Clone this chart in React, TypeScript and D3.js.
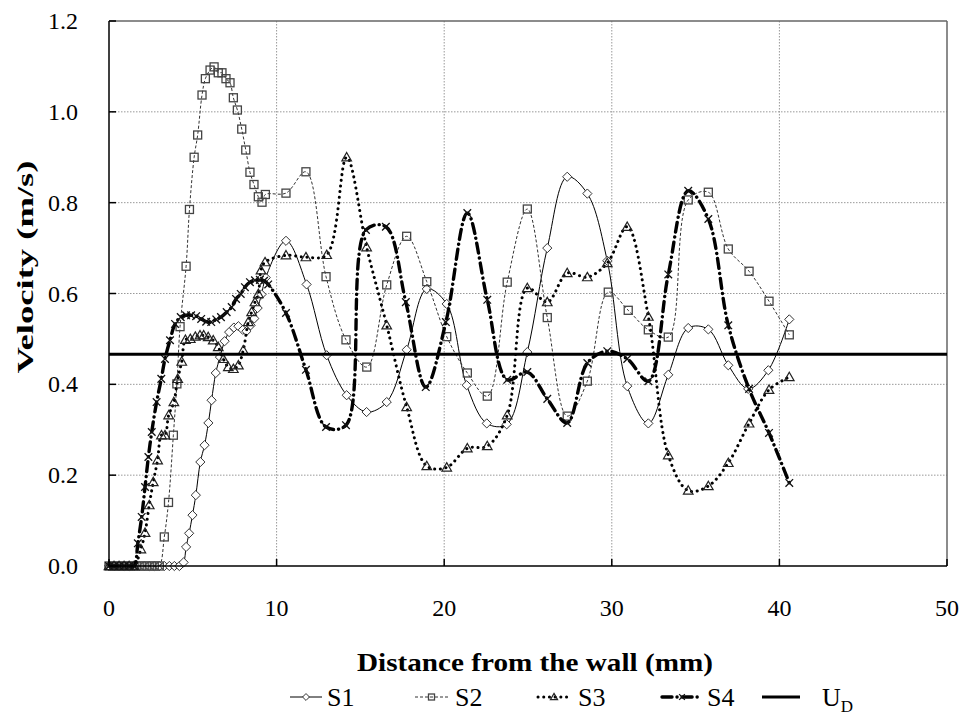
import React from 'react';
import * as d3 from 'd3';

type P = [number, number];

const xTickValues = [0, 10, 20, 30, 40, 50];
const yTickValues = [0, 0.2, 0.4, 0.6, 0.8, 1.0, 1.2];
const seriesNames = ['S1', 'S2', 'S3', 'S4'];
const udValue = 0.466;

const s1: P[] = [
  [0, 0], [0.3, 0], [0.6, 0], [0.9, 0], [1.2, 0], [1.5, 0], [1.8, 0], [2.1, 0], [2.4, 0], [2.7, 0],
  [3.0, 0], [3.3, 0], [3.6, 0], [3.9, 0], [4.2, 0],
  [4.45, 0.008], [4.6, 0.042], [4.78, 0.072], [4.98, 0.112], [5.18, 0.156], [5.45, 0.229], [5.7, 0.266],
  [5.93, 0.315], [6.12, 0.365], [6.37, 0.425], [6.62, 0.46], [6.9, 0.495], [7.17, 0.515], [7.45, 0.525],
  [7.72, 0.528], [7.98, 0.52], [8.2, 0.517], [8.45, 0.53], [8.67, 0.545], [8.87, 0.568], [9.1, 0.598],
  [9.35, 0.635],
  [10.56, 0.716], [11.79, 0.62], [12.99, 0.464], [14.18, 0.376], [15.37, 0.339], [16.57, 0.361],
  [17.76, 0.476], [18.96, 0.61], [20.15, 0.577], [21.34, 0.398], [22.54, 0.314], [23.73, 0.312],
  [24.96, 0.471], [26.15, 0.7], [27.34, 0.857], [28.54, 0.82], [29.73, 0.672], [30.92, 0.396],
  [32.18, 0.314], [33.37, 0.421], [34.56, 0.524], [35.76, 0.521], [36.95, 0.442], [38.14, 0.39],
  [39.34, 0.431], [40.59, 0.543],
];

const s2: P[] = [
  [0, 0], [0.3, 0], [0.6, 0], [0.9, 0], [1.2, 0], [1.5, 0], [1.8, 0], [2.1, 0], [2.4, 0], [2.7, 0], [3.0, 0],
  [3.3, 0.064], [3.55, 0.14], [3.84, 0.288], [4.05, 0.401], [4.24, 0.527], [4.6, 0.66], [4.8, 0.785],
  [5.08, 0.9], [5.29, 0.949], [5.55, 1.037], [5.75, 1.073], [6.03, 1.092], [6.27, 1.099], [6.52, 1.086],
  [6.74, 1.086], [6.98, 1.073], [7.22, 1.064], [7.42, 1.031], [7.66, 1.004], [7.92, 0.962], [8.16, 0.916],
  [8.41, 0.867], [8.65, 0.84], [8.91, 0.813], [9.13, 0.801], [9.33, 0.818],
  [10.56, 0.821], [11.75, 0.868], [12.95, 0.637], [14.14, 0.498], [15.38, 0.438], [16.57, 0.619],
  [17.76, 0.726], [18.96, 0.626], [20.15, 0.505], [21.38, 0.425], [22.57, 0.374], [23.76, 0.625],
  [24.96, 0.786], [26.15, 0.547], [27.34, 0.33], [28.54, 0.407], [29.79, 0.603], [30.98, 0.563],
  [32.18, 0.52], [33.37, 0.504], [34.56, 0.806], [35.76, 0.823], [36.95, 0.698], [38.19, 0.649],
  [39.38, 0.583], [40.59, 0.509],
];

const s3: P[] = [
  [0, 0], [0.3, 0], [0.6, 0], [0.9, 0], [1.2, 0], [1.5, 0],
  [1.9, 0.037], [2.15, 0.073], [2.4, 0.134], [2.64, 0.185], [2.9, 0.233], [3.13, 0.288], [3.34, 0.288],
  [3.56, 0.332], [3.87, 0.361], [4.1, 0.412], [4.34, 0.45], [4.56, 0.498], [4.85, 0.5], [5.15, 0.505],
  [5.43, 0.508], [5.65, 0.508], [5.92, 0.504], [6.22, 0.497], [6.52, 0.482], [6.82, 0.456], [7.12, 0.438],
  [7.42, 0.434], [7.72, 0.442], [8.01, 0.475], [8.31, 0.537], [8.51, 0.559], [8.71, 0.581], [8.91, 0.599],
  [9.07, 0.651], [9.31, 0.669],
  [10.56, 0.684], [11.75, 0.68], [12.99, 0.685], [14.18, 0.9], [15.37, 0.702], [16.57, 0.53],
  [17.76, 0.35], [18.96, 0.22], [20.15, 0.217], [21.38, 0.259], [22.57, 0.264], [23.76, 0.332],
  [24.96, 0.612], [26.15, 0.581], [27.34, 0.645], [28.54, 0.636], [29.73, 0.667], [30.92, 0.747],
  [32.18, 0.549], [33.37, 0.244], [34.56, 0.166], [35.76, 0.176], [36.95, 0.227], [38.19, 0.314],
  [39.38, 0.388], [40.59, 0.416],
];

const s4: P[] = [
  [0, 0], [0.3, 0], [0.6, 0], [0.9, 0], [1.2, 0], [1.5, 0],
  [1.72, 0.05], [1.95, 0.108], [2.15, 0.174], [2.35, 0.24], [2.55, 0.295], [2.84, 0.361], [3.12, 0.412],
  [3.34, 0.456], [3.64, 0.497], [3.94, 0.533], [4.28, 0.548], [4.6, 0.552], [4.9, 0.552], [5.2, 0.55],
  [5.5, 0.544], [5.8, 0.538], [6.1, 0.537], [6.4, 0.543], [6.68, 0.548], [7.02, 0.559], [7.32, 0.57],
  [7.58, 0.588], [7.86, 0.599], [8.11, 0.614], [8.41, 0.625], [8.71, 0.629], [9.0, 0.63], [9.25, 0.628],
  [9.5, 0.62],
  [10.56, 0.557], [11.75, 0.432], [12.95, 0.306], [14.14, 0.31], [15.33, 0.74], [16.52, 0.747],
  [17.71, 0.581], [18.9, 0.394], [20.1, 0.537], [21.38, 0.777], [22.57, 0.586], [23.76, 0.41],
  [24.96, 0.427], [26.15, 0.368], [27.34, 0.315], [28.54, 0.447], [29.73, 0.473], [30.92, 0.456],
  [32.18, 0.407], [33.37, 0.642], [34.56, 0.826], [35.76, 0.764], [36.95, 0.53], [38.19, 0.39],
  [39.38, 0.293], [40.59, 0.183],
];

const FONT = '"Liberation Serif", "Times New Roman", serif';

type MarkerKind = 'diamond' | 'square' | 'triangle' | 'cross';

function Marker({ kind, cx, cy, s = 1 }: { kind: MarkerKind; cx: number; cy: number; s?: number }) {
  if (kind === 'diamond') {
    const r = 4.6 * s;
    return <path d={`M${cx},${cy - r}L${cx + r},${cy}L${cx},${cy + r}L${cx - r},${cy}Z`} fill="#fff" stroke="#333" strokeWidth={1} />;
  }
  if (kind === 'square') {
    const r = 4 * s;
    return <rect x={cx - r} y={cy - r} width={2 * r} height={2 * r} fill="none" stroke="#444" strokeWidth={1.3} />;
  }
  if (kind === 'triangle') {
    const r = 4.8 * s;
    return <path d={`M${cx},${cy - r}L${cx + r},${cy + r * 0.75}L${cx - r},${cy + r * 0.75}Z`} fill="none" stroke="#222" strokeWidth={1.2} />;
  }
  const r = 3.8 * s;
  return <path d={`M${cx - r},${cy - r}L${cx + r},${cy + r}M${cx - r},${cy + r}L${cx + r},${cy - r}`} stroke="#111" strokeWidth={1.3} fill="none" />;
}

const styles = [
  { kind: 'diamond' as MarkerKind, stroke: '#000', width: 1, dash: undefined as string | undefined, cap: 'butt' },
  { kind: 'square' as MarkerKind, stroke: '#333', width: 1, dash: '3 2', cap: 'butt' },
  { kind: 'triangle' as MarkerKind, stroke: '#000', width: 3, dash: '0.1 5.6', cap: 'round' },
  { kind: 'cross' as MarkerKind, stroke: '#000', width: 3.4, dash: '10 5 0.1 5', cap: 'round' },
];

export default function App() {
  const left = 109, right = 947, top = 21, bottom = 566;
  const x = d3.scaleLinear().domain([0, 50]).range([left, right]);
  const y = d3.scaleLinear().domain([0, 1.2]).range([bottom, top]);
  const line = d3.line<P>().x(d => x(d[0])).y(d => y(d[1])).curve(d3.curveCatmullRom.alpha(0.5));
  const data = [s1, s2, s3, s4];

  const legendY = 697;
  const legendItems = [
    { x0: 290, x1: 322, tx: 327 },
    { x0: 415, x1: 448, tx: 455 },
    { x0: 538, x1: 570, tx: 578 },
    { x0: 662, x1: 702, tx: 707 },
  ];

  return (
    <svg width={966} height={716} style={{ position: 'absolute', left: 0, top: 0, background: '#fff' }} fontFamily={FONT}>
      <rect x={0} y={0} width={966} height={716} fill="#fff" />
      {/* grid */}
      {yTickValues.filter(v => v > 0 && v < 1.2).map(v => (
        <line key={'gy' + v} x1={left} x2={right} y1={y(v)} y2={y(v)} stroke="#999" strokeWidth={1} strokeDasharray="1.5 1.5" />
      ))}
      {xTickValues.filter(v => v > 0 && v < 50).map(v => (
        <line key={'gx' + v} x1={x(v)} x2={x(v)} y1={top} y2={bottom} stroke="#999" strokeWidth={1} strokeDasharray="1.5 1.5" />
      ))}
      {/* border */}
      <line x1={left} x2={right} y1={top} y2={top} stroke="#666" strokeWidth={1.5} />
      <line x1={right} x2={right} y1={top} y2={bottom} stroke="#666" strokeWidth={1.5} />
      {/* series */}
      {data.map((d, i) => (
        <g key={'s' + i}>
          <path d={line(d) || ''} fill="none" stroke={styles[i].stroke} strokeWidth={styles[i].width}
            strokeDasharray={styles[i].dash} strokeLinecap={styles[i].cap as any} />
          {d.map((p, j) => (
            <Marker key={j} kind={styles[i].kind} cx={x(p[0])} cy={y(p[1])} />
          ))}
        </g>
      ))}
      {/* U_D */}
      <line x1={x(0)} x2={x(50)} y1={y(udValue)} y2={y(udValue)} stroke="#000" strokeWidth={3} />
      {/* axes */}
      <line x1={left} x2={left} y1={top} y2={bottom} stroke="#000" strokeWidth={1.5} />
      <line x1={left} x2={right} y1={bottom} y2={bottom} stroke="#000" strokeWidth={1.5} />
      {yTickValues.map(v => (
        <g key={'ty' + v}>
          <line x1={left} x2={left + 7} y1={y(v)} y2={y(v)} stroke="#000" strokeWidth={1.5} />
          <text x={78} y={y(v) + 8} textAnchor="end" fontSize={24} fill="#000">{v.toFixed(1)}</text>
        </g>
      ))}
      {xTickValues.map(v => (
        <g key={'tx' + v}>
          <line x1={x(v)} x2={x(v)} y1={bottom} y2={bottom - 7} stroke="#000" strokeWidth={1.5} />
          <text x={x(v)} y={616} textAnchor="middle" fontSize={24} fill="#000">{v}</text>
        </g>
      ))}
      <text x={535} y={671} textAnchor="middle" fontSize={26} fontWeight="bold" textLength={356} lengthAdjust="spacingAndGlyphs">Distance from the wall (mm)</text>
      <text transform={`translate(33,267) rotate(-90)`} textAnchor="middle" fontSize={24} fontWeight="bold" textLength={213} lengthAdjust="spacingAndGlyphs">Velocity (m/s)</text>
      {/* legend */}
      {legendItems.map((it, i) => (
        <g key={'lg' + i}>
          <line x1={it.x0} x2={it.x1} y1={legendY} y2={legendY} stroke={styles[i].stroke} strokeWidth={styles[i].width}
            strokeDasharray={styles[i].dash} strokeLinecap={styles[i].cap as any} />
          <Marker kind={styles[i].kind} cx={(it.x0 + it.x1) / 2} cy={legendY} s={0.75} />
          <text x={it.tx} y={legendY + 9} fontSize={26}>{seriesNames[i]}</text>
        </g>
      ))}
      <line x1={762} x2={800} y1={legendY} y2={legendY} stroke="#000" strokeWidth={3} />
      <text x={822} y={legendY + 9} fontSize={26}>U<tspan fontSize={17} dy={6}>D</tspan></text>
    </svg>
  );
}
